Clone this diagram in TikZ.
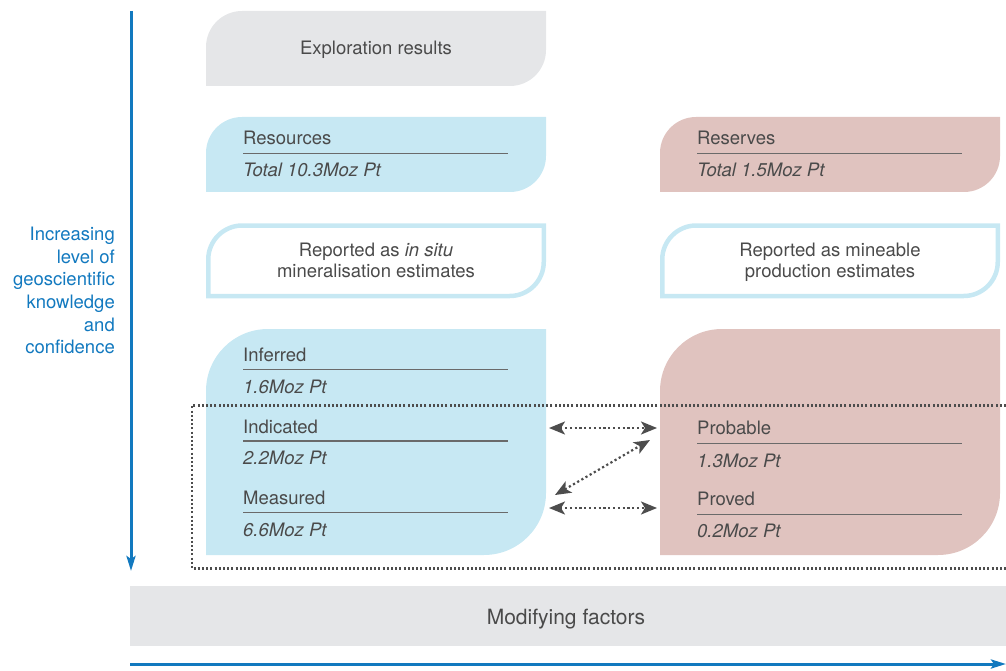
\documentclass[tikz,border=0pt]{standalone}
\usepackage{fontspec}
\setmainfont{TeX Gyre Heros}
\usetikzlibrary{arrows.meta}
\definecolor{fillblue}{HTML}{C7E8F3}
\definecolor{fillpink}{HTML}{E0C3BF}
\definecolor{fillgray}{HTML}{E5E6E8}
\definecolor{txt}{HTML}{4A4A4A}
\definecolor{rulec}{HTML}{6A6A6A}
\definecolor{axisblue}{HTML}{1279BF}
\definecolor{dotc}{HTML}{4D4D4D}
\newcommand\myleaf[6]{%
  \path[#1] ({#2},{#5}) -- ({#2},{#3+#6})
    .. controls ({#2},{#3+0.448*#6}) and ({#2+0.448*#6},{#3}) .. ({#2+#6},{#3})
    -- ({#4},{#3}) -- ({#4},{#5-#6})
    .. controls ({#4},{#5-0.448*#6}) and ({#4-0.448*#6},{#5}) .. ({#4-#6},{#5})
    -- cycle;}
\begin{document}
\begin{tikzpicture}[x=1pt,y=-1pt,
  font=\fontsize{18.5}{20.5}\selectfont,
  lab/.style={anchor=base west, text=txt, inner sep=0pt},
  val/.style={lab, font=\fontsize{18.5}{20.5}\selectfont\itshape},
  ctr/.style={anchor=base, text=txt, inner sep=0pt, align=center},
  rulel/.style={draw=rulec, line width=1.4pt},
  outl/.style={draw=fillblue, line width=4.5pt},
  dotbox/.style={draw=dotc, line width=2.2pt, dash pattern=on 2pt off 2.2pt},
  darr/.style={dotc, line width=2.2pt, dash pattern=on 2.2pt off 2.6pt,
    {Stealth[length=16pt,width=13pt,inset=4pt]}-{Stealth[length=16pt,width=13pt,inset=4pt]}},
  axis/.style={axisblue, line width=3pt, -{Stealth[length=15pt,width=9pt,inset=3pt]}},
  sidetxt/.style={anchor=north east, text=axisblue, align=right, inner sep=0pt,
    font=\fontsize{18.5}{22.6}\selectfont}
]
\useasboundingbox (0,0) rectangle (1006,671);

% boxes
\myleaf{fill=fillgray}{206}{11}{546}{86}{36}
\myleaf{fill=fillblue}{206}{117}{546}{192}{36}
\myleaf{fill=fillpink}{660}{117}{1000}{192}{36}
\myleaf{outl}{208.25}{225.5}{543.75}{296}{34}
\myleaf{outl}{662.25}{225.5}{997.75}{296}{34}
\myleaf{fill=fillblue}{206}{329}{546}{555}{62}
\myleaf{fill=fillpink}{660}{329}{1000}{555}{62}
\fill[fillgray] (130,586) rectangle (1006,646);

% dotted region
\draw[dotbox] (1006,405.5) -- (192,405.5) -- (192,568.5) -- (1006,568.5);

% axes
\coordinate (vtop) at (131,11);
\coordinate (vbot) at (131,571);
\coordinate (hl) at (130,664);
\coordinate (hr) at (1006,664);
\draw[axis] (vtop) -- (vbot);
\draw[axis] (hl) -- (hr);

% side text
\node[sidetxt] (side) at (115,227) {Increasing\\level of\\geoscientific\\knowledge\\and\\confidence};

% texts
\node[ctr] (expl) at (376,55) {Exploration results};

\node[lab] (res) at (243,145) {Resources};
\draw[rulel] (243,153.3) -- (508,153.3);
\node[val] (rest) at (243,177) {Total 10.3Moz Pt};

\node[lab] (rsv) at (697,145) {Reserves};
\draw[rulel] (697,153.3) -- (962,153.3);
\node[val] (rsvt) at (697,177) {Total 1.5Moz Pt};

\node[ctr] (insitu) at (376,277) {Reported as \textit{in situ}\\mineralisation estimates};
\node[ctr] (mineable) at (830,277) {Reported as mineable\\production estimates};

\node[lab] (inf) at (243,361) {Inferred};
\draw[rulel] (243,369.3) -- (508,369.3);
\node[val] (infv) at (243,393) {1.6Moz Pt};

\node[lab] (ind) at (243,433.5) {Indicated};
\draw[rulel] (243,441) -- (508,441);
\node[val] (indv) at (243,464.5) {2.2Moz Pt};

\node[lab] (mea) at (243,504) {Measured};
\draw[rulel] (243,512.3) -- (508,512.3);
\node[val] (meav) at (243,536) {6.6Moz Pt};

\node[lab] (prob) at (697,434.5) {Probable};
\draw[rulel] (697,443.3) -- (962,443.3);
\node[val] (probv) at (697,467) {1.3Moz Pt};

\node[lab] (prov) at (697,505.7) {Proved};
\draw[rulel] (697,514.3) -- (962,514.3);
\node[val] (provv) at (697,537.5) {0.2Moz Pt};

\node[ctr, font=\fontsize{21}{24}\selectfont] (modf) at (566,624) {Modifying factors};

% dotted double arrows
\coordinate (a1l) at (549,428);
\coordinate (a1r) at (657,428);
\coordinate (a2l) at (555,495);
\coordinate (a2r) at (650,440);
\coordinate (a3l) at (549,508);
\coordinate (a3r) at (657,508);
\draw[darr] (a1l) -- (a1r);
\draw[darr] (a2l) -- (a2r);
\draw[darr] (a3l) -- (a3r);
\end{tikzpicture}
\end{document}
